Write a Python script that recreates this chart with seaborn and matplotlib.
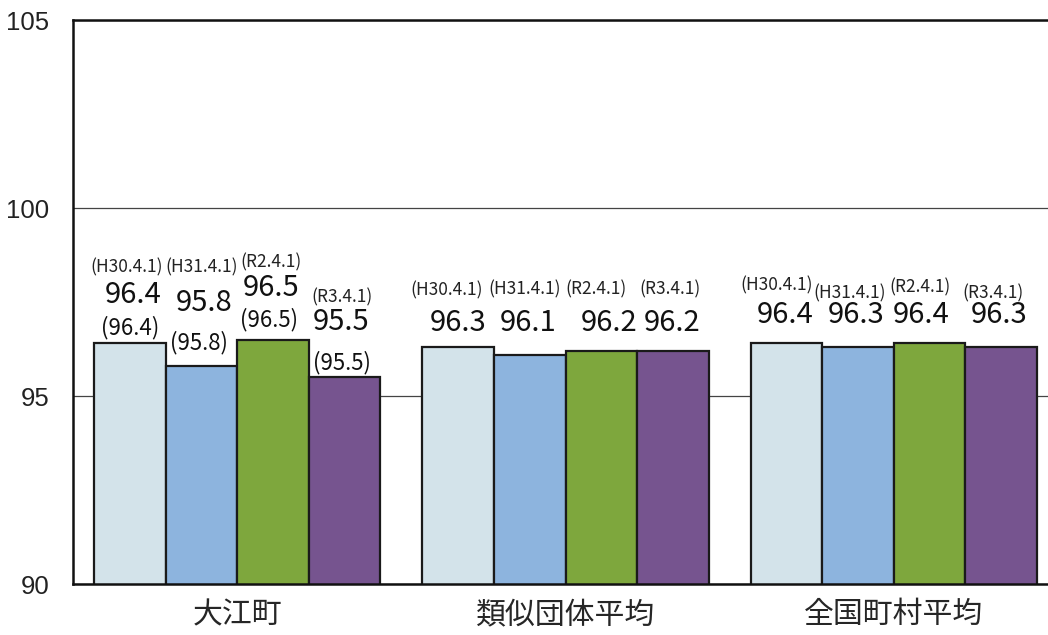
import pandas as pd
import matplotlib.pyplot as plt
import seaborn as sns

# data
groups = ['大江町', '類似団体平均', '全国町村平均']
dates = ['(H30.4.1)', '(H31.4.1)', '(R2.4.1)', '(R3.4.1)']
ooe = [96.4, 95.8, 96.5, 95.5]
ruiji = [96.3, 96.1, 96.2, 96.2]
zenkoku = [96.4, 96.3, 96.4, 96.3]
ooe_paren = ['(96.4)', '(95.8)', '(96.5)', '(95.5)']
yticks = [90, 95, 100, 105]

colors = ['#d3e3ea', '#8db4de', '#7ea73d', '#76548f']

rows = []
for g, vals in zip(groups, [ooe, ruiji, zenkoku]):
    for d, v in zip(dates, vals):
        rows.append({'group': g, 'date': d, 'value': v})
df = pd.DataFrame(rows)

sns.set_style('white')
plt.rcParams['font.family'] = ['Noto Sans CJK JP', 'DejaVu Sans']

fig = plt.figure(figsize=(10.48, 6.35), dpi=100)
ax = fig.add_axes([73 / 1048, 51 / 635, 985 / 1048, 564 / 635])

sns.barplot(data=df, x='group', y='value', hue='date', palette=colors,
            width=0.872, edgecolor='#1a1a1a', linewidth=1.6, saturation=1,
            errorbar=None, legend=False, ax=ax, zorder=2)

ax.set_ylim(90, 105)
ax.set_xlim(-0.5, 2.5)
ax.set_yticks(yticks)
ax.set_yticklabels([str(t) for t in yticks], fontsize=18.5, family='Liberation Sans',
                   color='#222222')
ax.tick_params(axis='y', length=0, pad=17)
ax.tick_params(axis='x', length=0, pad=11, labelsize=21.5)
ax.set_xlabel('')
ax.set_ylabel('')

ax.yaxis.grid(True, color='#444444', linewidth=0.9)
ax.set_axisbelow(True)
for s in ['left', 'bottom', 'top']:
    ax.spines[s].set_color('#111111')
    ax.spines[s].set_linewidth(1.8)
ax.spines['right'].set_visible(False)

# label offsets in pixels (dx, dy) relative to the bar top centre
date_off = [
    [(-3, 76), (0, 99), (-2, 77), (-3, 80)],
    [(-12, 57), (-5, 65), (-5, 61), (-3, 61)],
    [(-10, 58), (-8, 54), (-10, 56), (-8, 54)],
]
val_off = [
    [(3, 48), (3, 63), (-2, 52), (-3, 55)],
    [(0, 24), (-2, 32), (8, 28), (-1, 28)],
    [(-1, 28), (-2, 32), (-8, 28), (-2, 32)],
]
paren_off = [(0, 16), (-2, 23), (-4, 20), (-3, 15)]

all_vals = [ooe, ruiji, zenkoku]
for h, cont in enumerate(ax.containers):
    for g, bar in enumerate(cont):
        xc = bar.get_x() + bar.get_width() / 2
        top = bar.get_height() + bar.get_y()
        dx, dy = date_off[g][h]
        ax.annotate(dates[h], (xc, top), xytext=(dx, dy), textcoords='offset pixels',
                    ha='center', va='center', fontsize=12.5, color='#222222')
        dx, dy = val_off[g][h]
        ax.annotate(f'{all_vals[g][h]:.1f}', (xc, top), xytext=(dx, dy),
                    textcoords='offset pixels', ha='center', va='center',
                    fontsize=21, color='#111111')
        if g == 0:
            dx, dy = paren_off[h]
            ax.annotate(ooe_paren[h], (xc, top), xytext=(dx, dy),
                        textcoords='offset pixels', ha='center', va='center',
                        fontsize=16, color='#111111')

fig.savefig('out.png', dpi=100)
